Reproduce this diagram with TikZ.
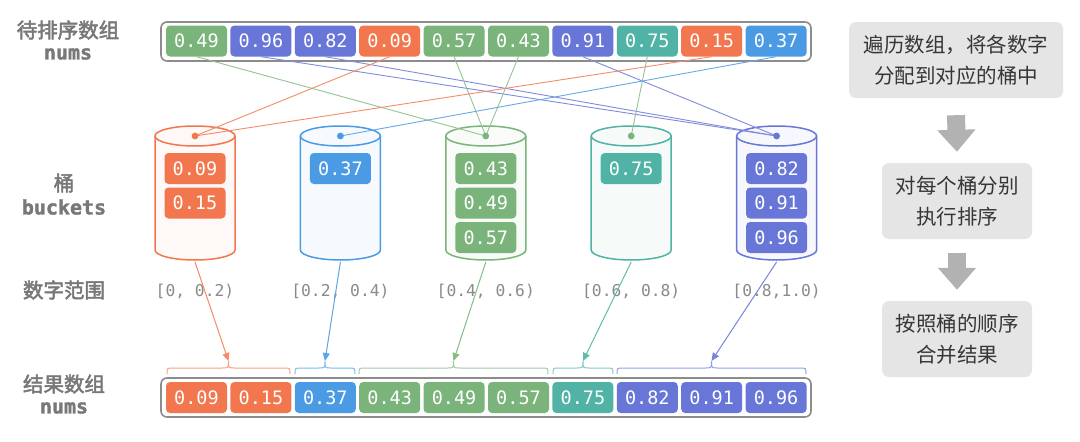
\documentclass[tikz,border=0pt]{standalone}
\usepackage{fontspec}
\usetikzlibrary{arrows.meta}
\newfontfamily\cjk{Noto Sans CJK SC}
\newfontfamily\cjkb{Noto Sans CJK SC}[FakeBold=2.5]
\newfontfamily\mono{DejaVu Sans Mono}
\newfontfamily\monob{DejaVu Sans Mono}[FakeBold=1.5]
\definecolor{cOr}{HTML}{F2774F}
\definecolor{cGr}{HTML}{7AB47A}
\definecolor{cIn}{HTML}{6877D7}
\definecolor{cBl}{HTML}{4A9BE3}
\definecolor{cTe}{HTML}{50B3A5}
\definecolor{lblc}{HTML}{787878}
\definecolor{framec}{HTML}{8C8C8C}
\definecolor{boxfill}{HTML}{E5E5E5}
\definecolor{boxtext}{HTML}{363636}
\definecolor{arrowgray}{HTML}{B2B2B2}
\definecolor{rngc}{HTML}{8A8A8A}
\tikzset{
  cell/.style={rounded corners=4pt, minimum width=61pt, minimum height=31pt, inner sep=0pt, text=white, font=\mono\fontsize{18.5}{20}\selectfont},
  arrframe/.style={draw=framec, line width=1.6pt, rounded corners=6pt, fill=white},
  lblt/.style={text=lblc, font=\cjkb\fontsize{20.5}{22}\selectfont},
  lbll/.style={text=lblc, font=\monob\bfseries\fontsize{20}{22}\selectfont},
  stepbox/.style={fill=boxfill, rounded corners=7pt, text=boxtext, font=\cjk\fontsize{20.5}{31}\selectfont, align=center, minimum height=76pt, inner sep=0pt},
  rngl/.style={text=rngc, font=\mono\fontsize{16.3}{18}\selectfont},
  feed/.style={line width=0.9pt},
  into/.style={line width=1pt, -{Triangle[length=8pt,width=7pt]}},
  bracel/.style={line width=1pt},
  bucketline/.style={line width=1.5pt},
  blockarrow/.style={draw=arrowgray, line width=18pt, -{Triangle[length=22pt,width=37pt]}},
}
\begin{document}
\begin{tikzpicture}[x=1pt,y=-1pt]
\useasboundingbox[fill=white] (0,0) rectangle (1080,442);

% left labels
\node[lblt] (l1) at (68,30) {待排序数组};
\node[lbll] (l2) at (68,54) {nums};
\node[lblt] (l3) at (64,183) {桶};
\node[lbll] (l4) at (64,207) {buckets};
\node[lblt] (l5) at (64,290) {数字范围};
\node[lblt] (l6) at (64,384) {结果数组};
\node[lbll] (l7) at (64,408) {nums};

% buckets
\foreach \k/\c in {1/cOr,2/cBl,3/cGr,4/cTe,5/cIn} {
  \pgfmathsetmacro\cx{195+145.4*(\k-1)}
  \fill[\c!5] (\cx-40,136) -- (\cx-40,250) arc[start angle=180,end angle=360,x radius=40pt,y radius=10pt] -- (\cx+40,136) -- cycle;
  \draw[\c, bucketline] (\cx-40,136) -- (\cx-40,250) arc[start angle=180,end angle=360,x radius=40pt,y radius=10pt] -- (\cx+40,136);
  \draw[\c, fill=\c!5, bucketline] (\cx,136) ellipse [x radius=40pt, y radius=10pt];
  \coordinate (k\k t) at (\cx,136);
  \coordinate (k\k b) at (\cx,262);
}

% range labels
\node[rngl] (r1) at (195,291) {[0, 0.2)};
\node[rngl] (r2) at (340.4,291) {[0.2, 0.4)};
\node[rngl] (r3) at (485.8,291) {[0.4, 0.6)};
\node[rngl] (r4) at (631.2,291) {[0.6, 0.8)};
\node[rngl] (r5) at (776.6,291) {[0.8,1.0)};

% frames
\draw[arrframe] (161,22) rectangle (811,61);
\draw[arrframe] (161,378) rectangle (811,417);

% top cells
\foreach \v/\c [count=\i] in {0.49/cGr,0.96/cIn,0.82/cIn,0.09/cOr,0.57/cGr,0.43/cGr,0.91/cIn,0.75/cTe,0.15/cOr,0.37/cBl}
  \node[cell, fill=\c] (t\i) at ({196.5+64.4*(\i-1)}, 41) {\v};

% bottom cells
\foreach \v/\c [count=\i] in {0.09/cOr,0.15/cOr,0.37/cBl,0.43/cGr,0.49/cGr,0.57/cGr,0.75/cTe,0.82/cIn,0.91/cIn,0.96/cIn}
  \node[cell, fill=\c] (b\i) at ({196.5+64.4*(\i-1)}, 397.5) {\v};

% feed lines
\draw[feed, cGr!80] (t1.south) -- (k3t);
\draw[feed, cIn!85] (t2.south) -- (k5t);
\draw[feed, cIn!85] (t3.south) -- (k5t);
\draw[feed, cOr!85] (t4.south) -- (k1t);
\draw[feed, cGr!80] (t5.south) -- (k3t);
\draw[feed, cGr!80] (t6.south) -- (k3t);
\draw[feed, cIn!85] (t7.south) -- (k5t);
\draw[feed, cGr!80] (t8.south) -- (k4t);
\draw[feed, cOr!85] (t9.south) -- (k1t);
\draw[feed, cBl!85] (t10.south) -- (k2t);

% dots
\fill[cOr] (k1t) circle[radius=3.4pt];
\fill[cBl] (k2t) circle[radius=3.4pt];
\fill[cGr] (k3t) circle[radius=3.4pt];
\fill[cGr] (k4t) circle[radius=3.4pt];
\fill[cIn] (k5t) circle[radius=3.4pt];

% bucket contents
\node[cell, fill=cOr] (u1) at (195,168.5) {0.09};
\node[cell, fill=cOr] (u2) at (195,203) {0.15};
\node[cell, fill=cBl] (u3) at (340.4,168.5) {0.37};
\node[cell, fill=cGr] (u4) at (485.8,168.5) {0.43};
\node[cell, fill=cGr] (u5) at (485.8,203) {0.49};
\node[cell, fill=cGr] (u6) at (485.8,237.5) {0.57};
\node[cell, fill=cTe] (u7) at (631.2,168.5) {0.75};
\node[cell, fill=cIn] (u8) at (776.6,168.5) {0.82};
\node[cell, fill=cIn] (u9) at (776.6,203) {0.91};
\node[cell, fill=cIn] (u10) at (776.6,237.5) {0.96};

% braces
\foreach \a/\m/\e/\c [count=\j] in {167/228.5/290/cOr,295/325/355/cBl,359/453.5/548/cGr,553/583/613/cTe,617/711.5/806/cIn} {
  \draw[bracel, \c!70] (\a,374) .. controls (\a,368) .. (\a+6,368) -- (\m-6,368) .. controls (\m,368) .. (\m,361) .. controls (\m,368) .. (\m+6,368) -- (\e-6,368) .. controls (\e,368) .. (\e,374);
  \coordinate (bt\j) at (\m,361);
}

% bucket to result arrows
\draw[into, cOr!85] (k1b) -- (bt1);
\draw[into, cBl!90] (k2b) -- (bt2);
\draw[into, cGr!90] (k3b) -- (bt3);
\draw[into, cTe!90] (k4b) -- (bt4);
\draw[into, cIn!90] (k5b) -- (bt5);

% right steps
\node[stepbox, minimum width=214pt] (s1) at (956,60) {遍历数组，将各数字\\分配到对应的桶中};
\node[stepbox, minimum width=150pt] (s2) at (957,201) {对每个桶分别\\执行排序};
\node[stepbox, minimum width=150pt] (s3) at (957,339) {按照桶的顺序\\合并结果};
\draw[blockarrow] ([yshift=-17pt]s1.south) -- ([yshift=11pt]s2.north);
\draw[blockarrow] ([yshift=-14pt]s2.south) -- ([yshift=11pt]s3.north);
\end{tikzpicture}
\end{document}
